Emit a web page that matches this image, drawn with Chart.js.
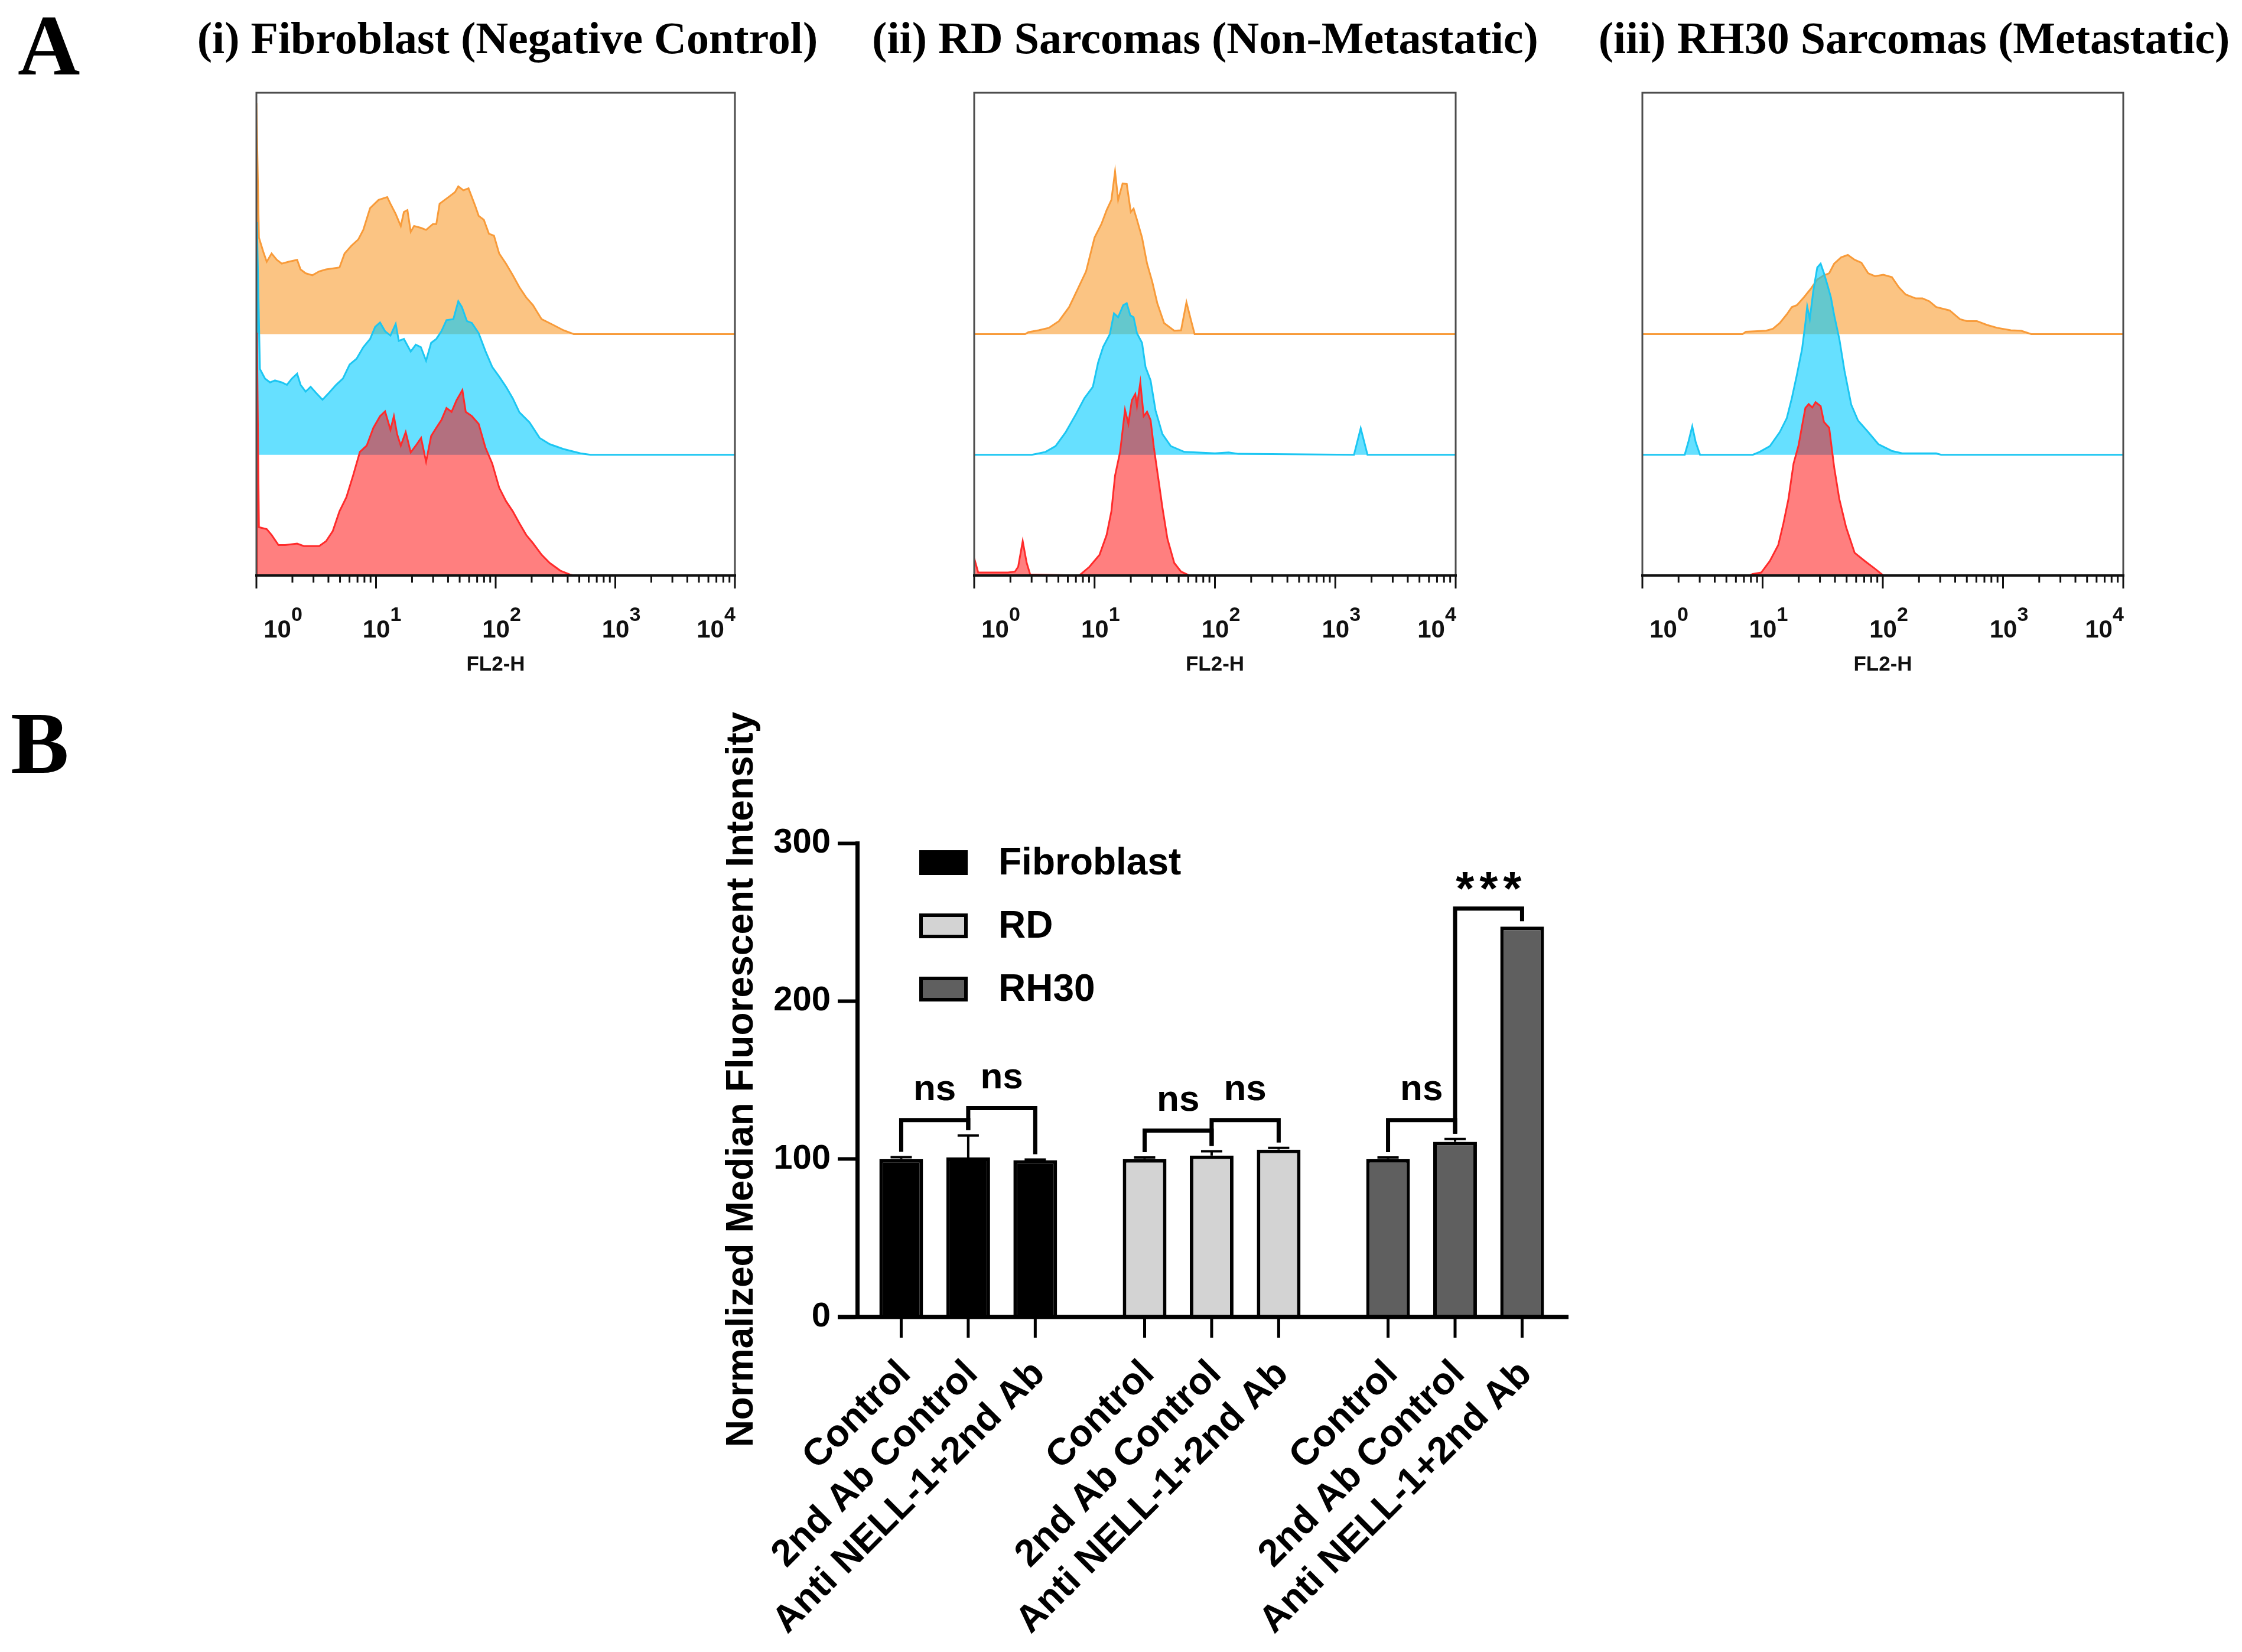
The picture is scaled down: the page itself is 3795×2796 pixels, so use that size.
<!DOCTYPE html>
<html>
<head>
<meta charset="utf-8">
<script src="https://cdn.jsdelivr.net/npm/chart.js@4.4.1/dist/chart.umd.min.js"></script>
<style>
  html, body { margin: 0; padding: 0; background: #fff; }
  body { width: 3795px; height: 2796px; position: relative; overflow: hidden; font-family: "Liberation Sans", Arial, sans-serif; }
  .letter { position: absolute; font-family: "Liberation Serif", "Times New Roman", serif; font-weight: bold; }
  .htitle { position: absolute; width: 1400px; text-align: center; white-space: nowrap;
            font-family: "Liberation Serif", "Times New Roman", serif; font-weight: bold; font-size: 76px; line-height: 76px; }
  .holder { position: absolute; }
</style>
</head>
<body>
<div class="letter" style="left:30px;top:4px;font-size:146px;line-height:146px">A</div>
<div class="letter" style="left:18px;top:1184px;font-size:148px;line-height:148px">B</div>

<script>
// ---------- Panel A: flow cytometry overlays (FL2-H, log scale) ----------
const panelTitles = ['(i) Fibroblast (Negative Control)', '(ii) RD Sarcomas (Non-Metastatic)', '(iii) RH30 Sarcomas (Metastatic)'];
const decadeValues = [1, 10, 100, 1000, 10000];
const decadeExponents = ['0', '1', '2', '3', '4'];
const axisName = 'FL2-H';

// [FL2-H, height]; height in % of panel height above each trace's own baseline
const fibOrange = [[1,0],[1,47.9],[1.05,20.0],[1.14,17.1],[1.22,15.0],[1.34,16.7],[1.48,15.4],[1.63,14.6],[1.86,15.0],[2.19,15.4],[2.34,13.4],[2.58,12.6],[2.94,12.2],[3.35,13.0],[3.82,13.4],[4.95,13.8],[5.46,16.7],[6.22,18.3],[7.10,19.6],[7.83,21.6],[8.92,26.1],[10.5,27.8],[12.4,28.4],[13.2,27.0],[14.6,24.9],[16.1,22.4],[17.1,25.3],[18.3,25.7],[19.5,21.2],[20.8,22.4],[23.8,22.0],[26.2,21.6],[29.9,22.8],[31.9,22.8],[34.0,27.0],[37.5,27.8],[41.4,28.6],[45.7,29.4],[48.7,30.6],[53.7,29.8],[59.3,30.2],[67.6,26.5],[72.1,24.5],[79.6,23.7],[87.8,20.8],[96.8,20.4],[107,16.7],[122,14.6],[139,12.2],[158,9.7],[180,7.6],[205,6.0],[242,3.1],[303,1.9],[369,0.8],[449,0],[10000,0]];
const fibCyan = [[1,0],[1.01,48.2],[1.07,17.8],[1.18,15.8],[1.30,15.0],[1.43,15.4],[1.63,15.0],[1.80,14.5],[1.98,15.8],[2.19,16.8],[2.34,14.5],[2.58,13.1],[2.84,14.1],[3.13,12.9],[3.57,11.4],[4.07,12.9],[4.64,14.5],[5.29,15.8],[6.02,18.7],[6.87,19.9],[7.83,22.3],[8.92,24.0],[9.84,26.5],[10.8,27.4],[11.9,25.6],[13.2,24.7],[14.6,27.1],[15.5,23.6],[17.1,24.0],[19.5,21.4],[21.5,22.8],[23.7,22.3],[26.2,19.5],[28.9,23.2],[31.9,24.0],[35.2,25.6],[38.8,27.9],[44.3,28.1],[48.7,31.8],[52.2,30.6],[57.5,27.7],[63.3,27.3],[72.1,25.2],[82.1,21.5],[93.6,18.2],[107,16.2],[122,14.1],[139,11.7],[158,8.8],[192,6.7],[233,3.5],[283,2.2],[369,1.2],[511,0.3],[622,0],[10000,0]];
const fibRed = [[1,0],[1.01,50.3],[1.05,10.0],[1.22,9.6],[1.34,8.4],[1.53,6.3],[1.74,6.3],[2.19,6.6],[2.49,6.1],[2.94,6.1],[3.35,6.1],[3.82,7.1],[4.35,9.2],[4.95,13.3],[5.65,16.2],[6.43,20.7],[7.33,25.6],[8.36,26.9],[9.51,30.6],[10.8,33.0],[11.9,34.0],[13.2,30.2],[14.1,33.0],[15.0,29.3],[16.1,26.9],[17.7,29.7],[19.5,25.5],[21.5,26.9],[23.8,28.5],[26.2,23.6],[28.9,28.9],[31.9,30.6],[35.2,32.2],[38.8,34.7],[42.8,33.9],[47.1,36.3],[52.7,38.4],[56.2,33.9],[63.3,33.0],[72.1,31.4],[82.1,26.5],[93.6,23.2],[107,18.2],[122,15.4],[139,13.3],[158,10.8],[180,8.4],[205,6.7],[242,4.3],[283,2.6],[347,1.0],[418,0.2],[449,0],[10000,0]];

const rdOrange = [[1,0],[2.65,0],[2.82,0.4],[3.43,0.8],[4.17,1.3],[5.06,2.7],[6.15,5.6],[7.23,9.3],[8.50,13.0],[10.0,20.0],[11.4,22.8],[12.6,25.7],[13.8,27.8],[14.8,33.7],[15.7,27.8],[17.1,31.2],[18.5,31.1],[20.0,25.3],[21.1,26.0],[22.5,23.7],[24.8,20.0],[27.3,14.6],[30.1,10.9],[33.2,6.4],[37.8,2.3],[45.9,0.7],[52.3,0.8],[58.0,6.6],[63.5,2.7],[67.8,0],[10000,0]];
const rdCyan = [[1,0],[3.01,0],[3.91,0.6],[4.74,1.8],[5.76,4.7],[7.00,8.4],[8.23,11.7],[9.68,14.1],[10.7,19.1],[11.8,22.4],[13.4,25.0],[14.5,29.3],[15.7,28.5],[17.3,31.0],[18.5,31.4],[19.8,28.9],[21.1,28.5],[22.5,25.2],[24.8,23.2],[26.5,18.2],[29.2,15.4],[32.1,9.2],[36.6,4.3],[43.0,1.8],[55.7,0.6],[100,0.3],[130,0.5],[157,0.2],[1429,0],[1626,5.5],[1852,0],[10000,0]];
const rdRed = [[1,3.6],[1.08,0.6],[1.22,0.6],[1.91,0.6],[2.18,0.8],[2.32,1.8],[2.53,7.1],[2.73,2.6],[2.92,0.2],[7.47,0],[9.07,1.8],[11.0,4.3],[12.6,8.4],[13.8,13.3],[14.8,20.7],[16.3,25.6],[17.9,34.3],[19.1,31.4],[20.4,36.3],[21.8,37.6],[22.5,35.1],[24.0,40.0],[25.6,33.0],[27.3,33.9],[29.2,32.2],[31.1,26.5],[34.3,19.1],[36.6,14.1],[40.3,7.6],[45.9,2.6],[52.3,0.8],[61.5,0],[10000,0]];

const rhOrange = [[1,0],[6.81,0],[7.27,0.5],[10.7,0.7],[12.2,1.1],[13.9,2.3],[15.9,4.1],[17.5,5.6],[19.3,6.0],[22.0,7.6],[25.0,9.3],[28.5,11.3],[32.4,12.2],[35.8,12.6],[39.4,14.6],[45.0,15.9],[51.2,16.4],[58.3,15.4],[66.4,14.8],[75.6,12.6],[86.1,12.0],[101,12.3],[119,11.8],[136,9.7],[155,8.2],[188,7.4],[214,7.4],[244,6.8],[278,5.6],[360,4.9],[438,3.1],[499,2.7],[606,2.7],[736,1.9],[895,1.3],[1161,0.8],[1413,0.7],[1716,0],[10000,0]];
const rhCyan = [[1,0],[2.25,0],[2.41,2.6],[2.60,5.9],[2.78,2.6],[3.02,0],[8.28,0],[9.44,0.6],[11.5,1.8],[13.9,4.7],[15.9,7.6],[17.5,11.7],[19.3,16.6],[21.3,21.9],[22.7,27.3],[23.5,30.7],[24.7,28.1],[26.4,33.9],[28.5,38.8],[30.4,39.6],[32.4,37.6],[34.7,35.1],[37.0,32.6],[39.4,28.9],[43.5,24.0],[48.0,17.4],[54.6,10.4],[62.2,7.1],[75.6,4.7],[91.9,2.2],[119,0.8],[145,0.3],[278,0.3],[306,0],[10000,0]];
const rhRed = [[1,0],[7.76,0],[8.28,0.3],[9.74,0.6],[11.5,3.0],[13.5,6.3],[14.9,10.8],[16.4,15.8],[18.1,23.2],[19.9,26.9],[21.3,31.0],[22.7,34.7],[24.2,35.5],[25.9,34.8],[27.6,35.9],[30.4,35.1],[32.4,31.8],[35.8,30.6],[39.4,22.4],[43.5,15.8],[49.5,10.0],[58.3,4.7],[70.8,3.0],[86.1,1.4],[101,0],[10000,0]];

// ---------- Panel B: normalized MFI bar chart ----------
const cellTypes = ['Fibroblast', 'RD', 'RH30'];
const treatments = ['Control', '2nd Ab Control', 'Anti NELL-1+2nd Ab'];
const controlMFI = [100, 100, 100];
const secondAbMFI = [101, 102.2, 110.9];
const antiNellMFI = [99.2, 106, 247.2];
const controlErr = [1.2, 1.0, 1.0];
const secondAbErr = [13.9, 2.7, 1.8];
const antiNellErr = [0.5, 1.1, 0];
const yTicks = [0, 100, 200, 300];
const yTitle = 'Normalized Median Fluorescent Intensity';
// significance brackets: [group, from treatment, to treatment], bracket level, label
const sigPairs = [[0,0,1],[0,1,2],[1,0,1],[1,1,2],[2,0,1],[2,1,2]];
const sigLevels = [124.7, 132.2, 118.0, 124.7, 124.7, 258.6];
const sigLabels = ['ns', 'ns', 'ns', 'ns', 'ns', '***'];

// ---------- styling / layout ----------
const SANS = '"Liberation Sans", Arial, sans-serif';
const traceStyles = [
  { line: '#f89b3a', fill: 'rgba(247,148,29,0.55)', base: 50, order: 2 },
  { line: '#1cc6f2', fill: 'rgba(0,203,255,0.6)',   base: 25, order: 1 },
  { line: '#ff2b2b', fill: 'rgba(255,0,0,0.5)',     base: 0,  order: 0 }
];
const histPanels = [
  { left: 434,  right: 1244, titleX: 859,  curves: [fibOrange, fibCyan, fibRed] },
  { left: 1649, right: 2464, titleX: 2040, curves: [rdOrange, rdCyan, rdRed] },
  { left: 2780, right: 3594, titleX: 3240, curves: [rhOrange, rhCyan, rhRed] }
];
const cellColors = ['#000000', '#d3d3d3', '#5f5f5f'];

function addCanvas(left, top, w, h) {
  const d = document.createElement('div');
  d.className = 'holder';
  d.style.cssText = `left:${left}px;top:${top}px;width:${w}px;height:${h}px`;
  const c = document.createElement('canvas');
  d.appendChild(c);
  document.body.appendChild(d);
  return c;
}

function seg(ctx, x1, y1, x2, y2) {
  ctx.beginPath(); ctx.moveTo(x1, y1); ctx.lineTo(x2, y2); ctx.stroke();
}

// frame, log ticks and 10^n labels of a histogram panel
const histAxisPlugin = {
  id: 'histAxis',
  afterDraw(chart) {
    const { ctx, chartArea: a } = chart;
    const x = chart.scales.x;
    ctx.save();
    ctx.strokeStyle = '#4d4d4d';
    ctx.lineWidth = 3;
    ctx.strokeRect(a.left, a.top, a.right - a.left, a.bottom - a.top);
    ctx.strokeStyle = '#111';
    ctx.lineWidth = 4;
    seg(ctx, a.left - 2, a.bottom, a.right + 2, a.bottom);
    ctx.lineWidth = 3;
    decadeValues.forEach((d, k) => {
      const px = x.getPixelForValue(d);
      seg(ctx, px, a.bottom, px, a.bottom + 22);
      if (k === decadeValues.length - 1) return;
      for (let m = 2; m <= 9; m++) {
        const mx = x.getPixelForValue(m * d);
        seg(ctx, mx, a.bottom, mx, a.bottom + 12);
      }
    });
    ctx.fillStyle = '#111';
    ctx.textBaseline = 'alphabetic';
    decadeValues.forEach((d, k) => {
      const base = 'bold 42px ' + SANS, sup = 'bold 34px ' + SANS;
      ctx.font = base; const w1 = ctx.measureText('10').width;
      ctx.font = sup; const w2 = ctx.measureText(decadeExponents[k]).width;
      let cx = x.getPixelForValue(d) + 10;
      cx = Math.max(a.left + 45, Math.min(a.right - 32, cx));
      const x0 = cx - (w1 + w2) / 2;
      ctx.textAlign = 'left';
      ctx.font = base; ctx.fillText('10', x0, a.bottom + 105);
      ctx.font = sup; ctx.fillText(decadeExponents[k], x0 + w1, a.bottom + 77);
    });
    ctx.font = 'bold 35px ' + SANS;
    ctx.textAlign = 'center';
    ctx.fillText(axisName, (a.left + a.right) / 2, a.bottom + 161);
    ctx.restore();
  }
};

histPanels.forEach((p, i) => {
  const t = document.createElement('div');
  t.className = 'htitle';
  t.style.left = (p.titleX - 700) + 'px';
  t.style.top = '26px';
  t.textContent = panelTitles[i];
  document.body.appendChild(t);

  const top = 140, h = 1010, pad = 60;
  const c = addCanvas(p.left - pad, top, p.right - p.left + 2 * pad, h);
  new Chart(c, {
    type: 'line',
    data: {
      datasets: p.curves.map((curve, k) => ({
        data: curve.map(([fx, hv]) => ({ x: fx, y: hv + traceStyles[k].base })),
        borderColor: traceStyles[k].line,
        backgroundColor: traceStyles[k].fill,
        fill: { value: traceStyles[k].base },
        borderWidth: 3,
        pointRadius: 0,
        tension: 0,
        order: traceStyles[k].order
      }))
    },
    options: {
      responsive: true, maintainAspectRatio: false, animation: false, devicePixelRatio: 1,
      layout: { padding: { left: pad, right: pad, top: 157 - top, bottom: top + h - 974 } },
      plugins: { legend: { display: false }, tooltip: { enabled: false } },
      scales: {
        x: { type: 'logarithmic', min: 1, max: 10000, display: false },
        y: { min: 0, max: 100, display: false }
      }
    },
    plugins: [histAxisPlugin]
  });
});

// ---------- bar chart ----------
const barValues = [controlMFI, secondAbMFI, antiNellMFI];
const barErrors = [controlErr, secondAbErr, antiNellErr];

const barDecorPlugin = {
  id: 'barDecor',
  afterDatasetsDraw(chart) {
    const { ctx, chartArea: a } = chart;
    const y = chart.scales.y;
    const barAt = (t, g) => chart.getDatasetMeta(t).data[g];
    ctx.save();
    ctx.strokeStyle = '#000';
    ctx.fillStyle = '#000';
    ctx.lineCap = 'butt';

    // x axis with one tick per bar
    ctx.lineWidth = 7;
    seg(ctx, a.left - 33, a.bottom, a.right, a.bottom);
    ctx.lineWidth = 5;
    treatments.forEach((tr, t) => cellTypes.forEach((ct, g) => {
      const b = barAt(t, g);
      seg(ctx, b.x, a.bottom, b.x, a.bottom + 35);
    }));

    // error bars (upper only)
    ctx.lineWidth = 4;
    treatments.forEach((tr, t) => cellTypes.forEach((ct, g) => {
      const e = barErrors[t][g];
      if (!e) return;
      const b = barAt(t, g);
      const top = y.getPixelForValue(barValues[t][g] + e);
      seg(ctx, b.x, b.y, b.x, top);
      seg(ctx, b.x - 18, top, b.x + 18, top);
    }));

    // significance brackets
    ctx.lineWidth = 7;
    ctx.lineJoin = 'miter';
    sigPairs.forEach(([g, f, t], k) => {
      const b1 = barAt(f, g), b2 = barAt(t, g);
      const yh = y.getPixelForValue(sigLevels[k]);
      const l1 = y.getPixelForValue(barValues[f][g] + barErrors[f][g]) - 9;
      const l2 = y.getPixelForValue(barValues[t][g] + barErrors[t][g]) - 9;
      ctx.beginPath();
      ctx.moveTo(b1.x, l1); ctx.lineTo(b1.x, yh); ctx.lineTo(b2.x, yh); ctx.lineTo(b2.x, l2);
      ctx.stroke();
      const mid = (b1.x + b2.x) / 2;
      const lab = sigLabels[k];
      ctx.textAlign = 'center';
      ctx.textBaseline = 'alphabetic';
      if (lab.startsWith('*')) {
        ctx.font = 'bold 80px ' + SANS;
        const m = ctx.measureText('*');
        const by = yh - 47 + (m.actualBoundingBoxAscent - m.actualBoundingBoxDescent) / 2;
        for (let i = 0; i < lab.length; i++) ctx.fillText('*', mid + (i - (lab.length - 1) / 2) * 40, by);
      } else {
        ctx.font = 'bold 62px ' + SANS;
        ctx.fillText(lab, mid, yh - 34);
      }
    });

    // rotated category labels
    ctx.font = 'bold 64px ' + SANS;
    ctx.textAlign = 'right';
    ctx.textBaseline = 'alphabetic';
    treatments.forEach((tr, t) => cellTypes.forEach((ct, g) => {
      const b = barAt(t, g);
      ctx.save();
      ctx.translate(b.x + 19, a.bottom + 35 + 64);
      ctx.rotate(-Math.PI / 4);
      ctx.fillText(tr, 0, 0);
      ctx.restore();
    }));

    // legend
    ctx.textAlign = 'left';
    ctx.textBaseline = 'middle';
    ctx.lineWidth = 6;
    cellTypes.forEach((name, i) => {
      const cy = 1460 - 1180 + i * 107;
      ctx.fillStyle = cellColors[i];
      ctx.fillRect(1556 - 1150, cy - 21, 82, 42);
      ctx.strokeRect(1556 - 1150 + 3, cy - 18, 76, 36);
      ctx.fillStyle = '#000';
      ctx.font = 'bold 64px ' + SANS;
      ctx.fillText(name, 1690 - 1150, cy + 2);
    });

    // y title
    ctx.save();
    ctx.translate(1256 - 1150, 1827 - 1180);
    ctx.rotate(-Math.PI / 2);
    ctx.textAlign = 'center';
    ctx.textBaseline = 'middle';
    ctx.font = 'bold 64px ' + SANS;
    ctx.fillText(yTitle, 0, 0);
    ctx.restore();

    ctx.restore();
  }
};

const barCanvas = addCanvas(1150, 1180, 1600, 1616);
new Chart(barCanvas, {
  type: 'bar',
  data: {
    datasets: treatments.map((tr, t) => ({
      label: tr,
      // x = index of the cell type group
      data: barValues[t].map((v, g) => ({ x: g, y: v })),
      backgroundColor: cellColors,
      borderColor: '#000',
      borderWidth: 6,
      categoryPercentage: 0.826,
      barPercentage: 0.652
    }))
  },
  options: {
    responsive: true, maintainAspectRatio: false, animation: false, devicePixelRatio: 1,
    layout: { padding: { left: 0, right: 95, top: 247, bottom: 567 } },
    plugins: { legend: { display: false }, tooltip: { enabled: false } },
    scales: {
      x: {
        type: 'linear', min: -0.456, max: 2.466, offset: false, display: false,
        afterBuildTicks: s => { s.ticks = cellTypes.map((c, g) => ({ value: g })); }
      },
      y: {
        min: 0, max: 300,
        afterBuildTicks: s => { s.ticks = yTicks.map(v => ({ value: v })); },
        afterFit: s => { s.width = 301; },
        ticks: { color: '#000', padding: 12, font: { family: SANS, weight: 'bold', size: 58 } },
        grid: { drawOnChartArea: false, tickLength: 33, tickWidth: 6, color: '#000' },
        border: { width: 7, color: '#000' }
      }
    }
  },
  plugins: [barDecorPlugin]
});
</script>
</body>
</html>
